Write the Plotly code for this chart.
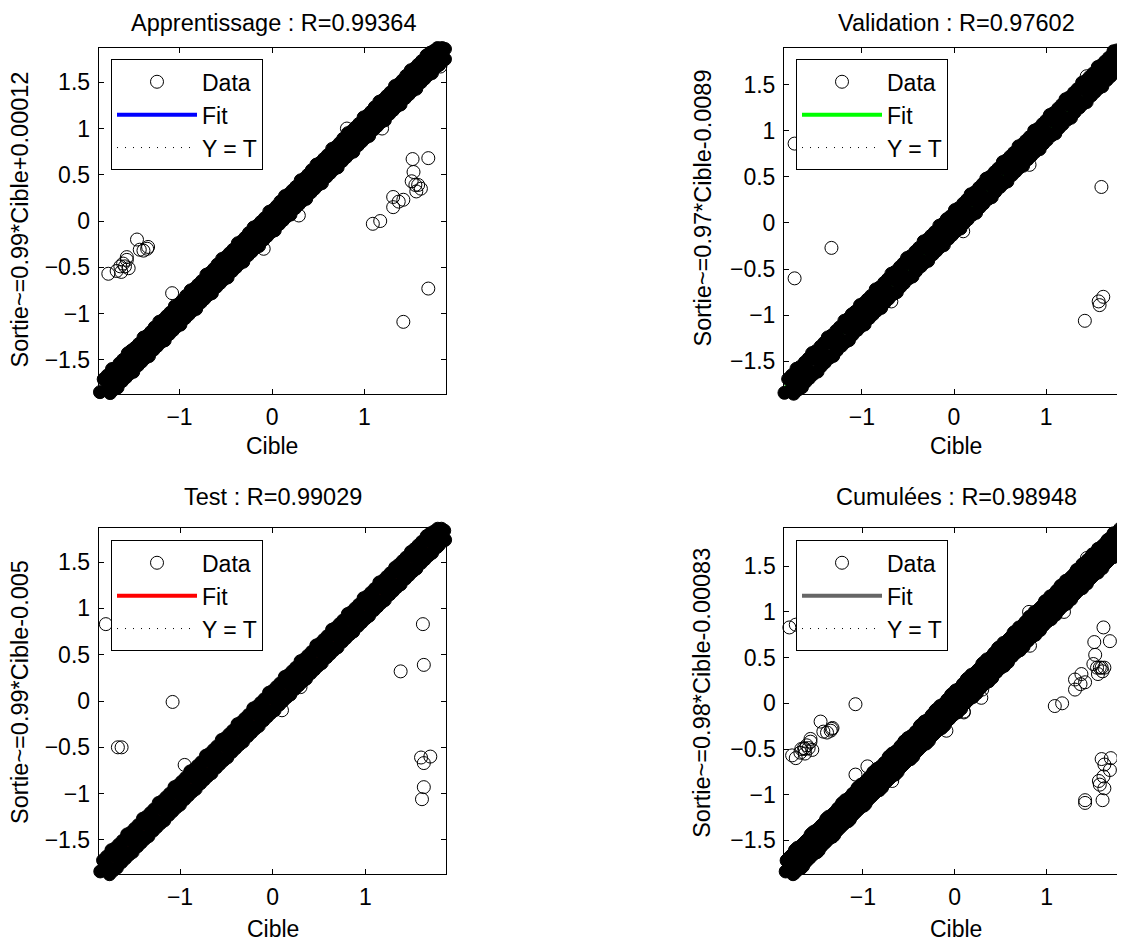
import plotly.graph_objects as go

# ---------------- data ----------------
# Apprentissage : dense diagonal band (lanes of overlapping circles) + scattered points
train_mid_t = [-1.86, -1.77, -1.69, -1.60, -1.52, -1.43, -1.35, -1.26, -1.18, -1.09, -1.01, -0.92, -0.84, -0.75, -0.67, -0.58, -0.50, -0.41, -0.33, -0.24, -0.16, -0.07, 0.01, 0.10, 0.18, 0.27, 0.35, 0.44, 0.52, 0.61, 0.69, 0.78, 0.86, 0.95, 1.03, 1.12, 1.20, 1.29, 1.37, 1.46, 1.54, 1.63, 1.71, 1.80, 1.87]
train_mid_y = [-1.85, -1.78, -1.68, -1.61, -1.51, -1.44, -1.34, -1.27, -1.17, -1.10, -1.00, -0.93, -0.83, -0.76, -0.66, -0.59, -0.49, -0.42, -0.32, -0.25, -0.15, -0.08, 0.02, 0.09, 0.19, 0.26, 0.36, 0.43, 0.53, 0.60, 0.70, 0.77, 0.87, 0.94, 1.04, 1.11, 1.21, 1.28, 1.38, 1.45, 1.55, 1.62, 1.72, 1.79, 1.86]
train_hi_t = [-1.82, -1.73, -1.65, -1.56, -1.48, -1.39, -1.31, -1.22, -1.14, -1.05, -0.97, -0.88, -0.80, -0.71, -0.63, -0.54, -0.46, -0.37, -0.29, -0.20, -0.12, -0.03, 0.05, 0.14, 0.22, 0.31, 0.39, 0.48, 0.56, 0.65, 0.73, 0.82, 0.90, 0.99, 1.07, 1.16, 1.24, 1.33, 1.41, 1.50, 1.58, 1.67, 1.75, 1.84]
train_hi_y = [-1.71, -1.60, -1.54, -1.43, -1.37, -1.26, -1.20, -1.09, -1.03, -0.92, -0.86, -0.75, -0.69, -0.58, -0.52, -0.41, -0.35, -0.24, -0.18, -0.07, -0.01, 0.10, 0.16, 0.27, 0.33, 0.44, 0.50, 0.61, 0.67, 0.78, 0.84, 0.95, 1.01, 1.12, 1.18, 1.29, 1.35, 1.46, 1.52, 1.63, 1.69, 1.79, 1.84, 1.87]
train_hi2_t = [-1.78, -1.69, -1.61, -1.52, -1.44, -1.35, -1.27, -1.18, -1.10, -1.01, -0.93, -0.84, -0.76, -0.67, -0.59, -0.50, -0.42, -0.33, -0.25, -0.16, -0.08, 0.01, 0.09, 0.18, 0.26, 0.35, 0.43, 0.52, 0.60, 0.69, 0.77, 0.86, 0.94, 1.03, 1.11, 1.20, 1.28, 1.37, 1.45, 1.54, 1.62, 1.71, 1.79]
train_hi2_y = [-1.67, -1.59, -1.50, -1.40, -1.33, -1.24, -1.15, -1.07, -0.99, -0.90, -0.81, -0.73, -0.65, -0.56, -0.47, -0.39, -0.31, -0.22, -0.13, -0.05, 0.03, 0.12, 0.21, 0.29, 0.37, 0.46, 0.55, 0.63, 0.71, 0.80, 0.89, 0.97, 1.05, 1.14, 1.23, 1.31, 1.39, 1.48, 1.57, 1.65, 1.73, 1.82, 1.87]
train_lo_t = [-1.75, -1.67, -1.58, -1.50, -1.41, -1.33, -1.24, -1.16, -1.07, -0.99, -0.90, -0.82, -0.73, -0.65, -0.56, -0.48, -0.39, -0.31, -0.22, -0.14, -0.05, 0.03, 0.12, 0.20, 0.29, 0.37, 0.46, 0.54, 0.63, 0.71, 0.80, 0.88, 0.97, 1.05, 1.14, 1.22, 1.31, 1.39, 1.48, 1.56, 1.65, 1.73, 1.81, 1.87]
train_lo_y = [-1.86, -1.80, -1.69, -1.63, -1.52, -1.46, -1.35, -1.29, -1.18, -1.12, -1.01, -0.95, -0.84, -0.78, -0.67, -0.61, -0.50, -0.44, -0.33, -0.27, -0.16, -0.10, 0.01, 0.07, 0.18, 0.24, 0.35, 0.41, 0.52, 0.58, 0.69, 0.75, 0.86, 0.92, 1.03, 1.09, 1.20, 1.26, 1.37, 1.43, 1.54, 1.60, 1.69, 1.75]
train_lo2_t = [-1.71, -1.62, -1.54, -1.45, -1.37, -1.28, -1.20, -1.11, -1.03, -0.94, -0.86, -0.77, -0.69, -0.60, -0.52, -0.43, -0.35, -0.26, -0.18, -0.09, -0.01, 0.08, 0.16, 0.25, 0.33, 0.42, 0.50, 0.59, 0.67, 0.76, 0.84, 0.93, 1.01, 1.10, 1.18, 1.27, 1.35, 1.44, 1.52, 1.61, 1.69, 1.78, 1.85]
train_lo2_y = [-1.82, -1.73, -1.65, -1.56, -1.48, -1.39, -1.31, -1.22, -1.14, -1.05, -0.97, -0.88, -0.80, -0.71, -0.63, -0.54, -0.46, -0.37, -0.29, -0.20, -0.12, -0.03, 0.05, 0.14, 0.22, 0.31, 0.39, 0.48, 0.56, 0.65, 0.73, 0.82, 0.90, 0.99, 1.07, 1.16, 1.24, 1.33, 1.41, 1.50, 1.58, 1.67, 1.74]
train_out_t = [-1.57, -1.77, -1.68, -1.64, -1.61, -1.57, -1.63, -1.59, -1.55, -1.57, -1.46, -1.43, -1.39, -1.35, -1.34,
               -1.08, -0.09, 0.29, 0.81, 1.19, 1.82, 1.09, 1.17, 1.31, 1.31, 1.37, 1.42, 1.52, 1.53, 1.51, 1.55,
               1.56, 1.61, 1.58, 1.69, 1.69, 1.42]
train_out_y = [0.75, -0.57, -0.54, -0.49, -0.46, -0.42, -0.55, -0.49, -0.51, -0.39, -0.20, -0.31, -0.32, -0.30, -0.28,
               -0.78, -0.30, 0.06, 1.00, 1.00, 1.67, -0.03, 0.00, 0.26, 0.15, 0.21, 0.23, 0.67, 0.53, 0.43, 0.39,
               0.32, 0.35, 0.39, 0.68, -0.73, -1.09]

# Validation
val_mid_t = [-1.84, -1.75, -1.67, -1.58, -1.49, -1.41, -1.32, -1.24, -1.15, -1.06, -0.98, -0.89, -0.81, -0.72, -0.63, -0.55, -0.46, -0.38, -0.29, -0.20, -0.12, -0.03, 0.05, 0.14, 0.23, 0.31, 0.40, 0.48, 0.57, 0.66, 0.74, 0.83, 0.91, 1.00, 1.09, 1.17, 1.26, 1.34, 1.43, 1.52, 1.60, 1.69, 1.77, 1.85]
val_mid_y = [-1.84, -1.76, -1.66, -1.59, -1.48, -1.42, -1.31, -1.25, -1.14, -1.07, -0.97, -0.90, -0.80, -0.73, -0.62, -0.56, -0.45, -0.39, -0.28, -0.21, -0.11, -0.04, 0.06, 0.13, 0.24, 0.30, 0.41, 0.47, 0.58, 0.65, 0.75, 0.82, 0.92, 0.99, 1.10, 1.16, 1.27, 1.33, 1.44, 1.51, 1.61, 1.68, 1.78, 1.85]
val_hi_t = [-1.80, -1.71, -1.62, -1.54, -1.45, -1.37, -1.28, -1.19, -1.11, -1.02, -0.94, -0.85, -0.76, -0.68, -0.59, -0.51, -0.42, -0.33, -0.25, -0.16, -0.08, 0.01, 0.10, 0.18, 0.27, 0.35, 0.44, 0.53, 0.61, 0.70, 0.78, 0.87, 0.96, 1.04, 1.13, 1.21, 1.30, 1.39, 1.47, 1.56, 1.64, 1.73, 1.80]
val_hi_y = [-1.69, -1.58, -1.51, -1.41, -1.34, -1.24, -1.17, -1.06, -0.99, -0.89, -0.83, -0.72, -0.65, -0.55, -0.48, -0.38, -0.31, -0.20, -0.14, -0.03, 0.04, 0.14, 0.21, 0.31, 0.38, 0.48, 0.55, 0.66, 0.72, 0.83, 0.89, 1.00, 1.07, 1.17, 1.24, 1.34, 1.41, 1.52, 1.58, 1.69, 1.75, 1.86, 1.90]
val_hi2_t = [-1.76, -1.67, -1.58, -1.50, -1.41, -1.33, -1.24, -1.15, -1.07, -0.98, -0.90, -0.81, -0.72, -0.64, -0.55, -0.47, -0.38, -0.29, -0.21, -0.12, -0.04, 0.05, 0.14, 0.22, 0.31, 0.39, 0.48, 0.57, 0.65, 0.74, 0.82, 0.91, 1.00, 1.08, 1.17, 1.25, 1.34, 1.43, 1.51, 1.60, 1.68, 1.77, 1.84]
val_hi2_y = [-1.65, -1.56, -1.47, -1.39, -1.30, -1.22, -1.13, -1.04, -0.96, -0.87, -0.79, -0.70, -0.61, -0.53, -0.44, -0.36, -0.27, -0.18, -0.10, -0.01, 0.07, 0.16, 0.25, 0.33, 0.42, 0.50, 0.59, 0.68, 0.76, 0.85, 0.93, 1.02, 1.11, 1.19, 1.28, 1.36, 1.45, 1.54, 1.62, 1.71, 1.79, 1.87, 1.90]
val_lo_t = [-1.74, -1.65, -1.57, -1.48, -1.40, -1.31, -1.22, -1.14, -1.05, -0.97, -0.88, -0.79, -0.71, -0.62, -0.54, -0.45, -0.36, -0.28, -0.19, -0.11, -0.02, 0.07, 0.15, 0.24, 0.32, 0.41, 0.50, 0.58, 0.67, 0.75, 0.84, 0.93, 1.01, 1.10, 1.18, 1.27, 1.36, 1.44, 1.53, 1.61, 1.70, 1.78, 1.86]
val_lo_y = [-1.85, -1.78, -1.68, -1.61, -1.51, -1.44, -1.33, -1.27, -1.16, -1.10, -0.99, -0.92, -0.82, -0.75, -0.65, -0.58, -0.47, -0.41, -0.30, -0.24, -0.13, -0.06, 0.04, 0.11, 0.21, 0.28, 0.39, 0.45, 0.56, 0.62, 0.73, 0.80, 0.90, 0.97, 1.07, 1.14, 1.25, 1.31, 1.42, 1.48, 1.59, 1.65, 1.75]
val_lo2_t = [-1.70, -1.61, -1.53, -1.44, -1.35, -1.27, -1.18, -1.10, -1.01, -0.92, -0.84, -0.75, -0.66, -0.58, -0.49, -0.41, -0.32, -0.23, -0.15, -0.06, 0.02, 0.11, 0.20, 0.28, 0.37, 0.45, 0.54, 0.63, 0.71, 0.80, 0.88, 0.97, 1.06, 1.14, 1.23, 1.31, 1.40, 1.49, 1.57, 1.66, 1.74, 1.82, 1.88]
val_lo2_y = [-1.81, -1.72, -1.64, -1.55, -1.46, -1.38, -1.29, -1.21, -1.12, -1.03, -0.95, -0.86, -0.77, -0.69, -0.60, -0.52, -0.43, -0.34, -0.26, -0.17, -0.09, 0.00, 0.09, 0.17, 0.26, 0.34, 0.43, 0.52, 0.60, 0.69, 0.77, 0.86, 0.95, 1.03, 1.12, 1.20, 1.29, 1.38, 1.46, 1.55, 1.63, 1.71, 1.77]
val_out_t = [-1.73, -1.58, -1.56, -1.55, -1.33, -1.73, -0.68, 0.10, 0.82, 1.44, 1.80, 1.60, 1.42, 1.57, 1.62, 1.58]
val_out_y = [0.86, 0.74, 0.72, 0.75, -0.27, -0.60, -0.85, -0.09, 0.63, 1.59, 1.91, 0.39, -1.06, -0.85, -0.80, -0.89]

# Test
test_mid_t = [-1.86, -1.78, -1.69, -1.61, -1.52, -1.44, -1.35, -1.27, -1.18, -1.10, -1.01, -0.93, -0.84, -0.76, -0.67, -0.59, -0.50, -0.42, -0.33, -0.25, -0.16, -0.08, 0.01, 0.09, 0.18, 0.26, 0.35, 0.43, 0.52, 0.60, 0.69, 0.77, 0.86, 0.94, 1.03, 1.11, 1.20, 1.28, 1.37, 1.45, 1.54, 1.62, 1.71, 1.79, 1.85]
test_mid_y = [-1.84, -1.79, -1.68, -1.62, -1.51, -1.45, -1.34, -1.28, -1.17, -1.11, -1.00, -0.94, -0.83, -0.77, -0.66, -0.60, -0.49, -0.43, -0.32, -0.26, -0.15, -0.09, 0.02, 0.08, 0.19, 0.25, 0.36, 0.42, 0.53, 0.59, 0.70, 0.76, 0.87, 0.93, 1.04, 1.10, 1.21, 1.27, 1.38, 1.44, 1.55, 1.61, 1.72, 1.78, 1.84]
test_hi_t = [-1.83, -1.74, -1.66, -1.57, -1.49, -1.40, -1.32, -1.23, -1.15, -1.06, -0.98, -0.89, -0.81, -0.72, -0.64, -0.55, -0.47, -0.38, -0.30, -0.21, -0.13, -0.04, 0.04, 0.13, 0.21, 0.30, 0.38, 0.47, 0.55, 0.64, 0.72, 0.81, 0.89, 0.98, 1.06, 1.15, 1.23, 1.32, 1.40, 1.49, 1.57, 1.66, 1.74, 1.82]
test_hi_y = [-1.72, -1.61, -1.55, -1.44, -1.38, -1.27, -1.21, -1.10, -1.04, -0.93, -0.87, -0.76, -0.70, -0.59, -0.53, -0.42, -0.36, -0.25, -0.19, -0.08, -0.02, 0.09, 0.15, 0.26, 0.32, 0.43, 0.49, 0.60, 0.66, 0.77, 0.83, 0.94, 1.00, 1.11, 1.17, 1.28, 1.34, 1.44, 1.51, 1.61, 1.68, 1.78, 1.83, 1.86]
test_hi2_t = [-1.79, -1.70, -1.62, -1.53, -1.45, -1.36, -1.28, -1.19, -1.11, -1.02, -0.94, -0.85, -0.77, -0.68, -0.60, -0.51, -0.43, -0.34, -0.26, -0.17, -0.09, 0.00, 0.08, 0.17, 0.25, 0.34, 0.42, 0.51, 0.59, 0.68, 0.76, 0.85, 0.93, 1.02, 1.10, 1.19, 1.27, 1.36, 1.44, 1.53, 1.61, 1.70, 1.78]
test_hi2_y = [-1.68, -1.59, -1.51, -1.42, -1.34, -1.25, -1.17, -1.08, -1.00, -0.91, -0.83, -0.74, -0.66, -0.57, -0.49, -0.40, -0.32, -0.23, -0.15, -0.06, 0.02, 0.11, 0.19, 0.28, 0.36, 0.45, 0.53, 0.62, 0.70, 0.79, 0.87, 0.96, 1.04, 1.13, 1.21, 1.30, 1.38, 1.47, 1.55, 1.64, 1.72, 1.81, 1.86]
test_lo_t = [-1.76, -1.68, -1.59, -1.51, -1.42, -1.34, -1.25, -1.17, -1.08, -1.00, -0.91, -0.83, -0.74, -0.66, -0.57, -0.49, -0.40, -0.32, -0.23, -0.15, -0.06, 0.02, 0.11, 0.19, 0.28, 0.36, 0.45, 0.53, 0.62, 0.70, 0.79, 0.87, 0.96, 1.04, 1.13, 1.21, 1.30, 1.38, 1.47, 1.55, 1.64, 1.72, 1.79, 1.86]
test_lo_y = [-1.87, -1.80, -1.70, -1.63, -1.53, -1.46, -1.36, -1.29, -1.19, -1.12, -1.02, -0.95, -0.85, -0.78, -0.68, -0.61, -0.51, -0.44, -0.34, -0.27, -0.17, -0.10, 0.00, 0.07, 0.17, 0.24, 0.34, 0.41, 0.51, 0.58, 0.68, 0.75, 0.85, 0.92, 1.02, 1.09, 1.19, 1.26, 1.36, 1.43, 1.53, 1.60, 1.68, 1.74]
test_lo2_t = [-1.72, -1.63, -1.55, -1.46, -1.38, -1.29, -1.21, -1.12, -1.04, -0.95, -0.87, -0.78, -0.70, -0.61, -0.53, -0.44, -0.36, -0.27, -0.19, -0.10, -0.02, 0.07, 0.15, 0.24, 0.32, 0.41, 0.49, 0.58, 0.66, 0.75, 0.83, 0.92, 1.00, 1.09, 1.17, 1.26, 1.34, 1.43, 1.51, 1.60, 1.68, 1.77, 1.84]
test_lo2_y = [-1.83, -1.74, -1.66, -1.57, -1.49, -1.40, -1.32, -1.23, -1.15, -1.06, -0.98, -0.89, -0.81, -0.72, -0.64, -0.55, -0.47, -0.38, -0.30, -0.21, -0.13, -0.04, 0.04, 0.13, 0.21, 0.30, 0.38, 0.47, 0.55, 0.64, 0.72, 0.81, 0.89, 0.98, 1.06, 1.15, 1.23, 1.32, 1.40, 1.49, 1.57, 1.66, 1.73]
test_out_t = [-1.80, -1.67, -1.63, -1.08, -0.95, 0.10, 0.30, 1.62, 1.63, 1.38, 1.60, 1.70, 1.63, 1.63, 1.61]
test_out_y = [0.83, -0.50, -0.50, -0.01, -0.69, -0.10, 0.15, 0.83, 0.39, 0.32, -0.61, -0.60, -0.67, -0.93, -1.06]

train_band_t = train_mid_t + train_hi_t + train_hi2_t + train_lo_t + train_lo2_t
train_band_y = train_mid_y + train_hi_y + train_hi2_y + train_lo_y + train_lo2_y
val_band_t = val_mid_t + val_hi_t + val_hi2_t + val_lo_t + val_lo2_t
val_band_y = val_mid_y + val_hi_y + val_hi2_y + val_lo_y + val_lo2_y
test_band_t = test_mid_t + test_hi_t + test_hi2_t + test_lo_t + test_lo2_t
test_band_y = test_mid_y + test_hi_y + test_hi2_y + test_lo_y + test_lo2_y

# Cumulées = all three sets together
all_band_t = train_band_t + val_band_t + test_band_t
all_band_y = train_band_y + val_band_y + test_band_y
all_out_t = train_out_t + val_out_t + test_out_t
all_out_y = train_out_y + val_out_y + test_out_y

titles = ["Apprentissage : R=0.99364", "Validation : R=0.97602", "Test : R=0.99029", "Cumulées : R=0.98948"]
ylabels = ["Sortie~=0.99*Cible+0.00012", "Sortie~=0.97*Cible-0.0089",
           "Sortie~=0.99*Cible-0.005", "Sortie~=0.98*Cible-0.00083"]
xlabel = "Cible"
fit_slope = [0.99, 0.97, 0.99, 0.98]
fit_offset = [0.00012, -0.0089, -0.005, -0.00083]
legend_names = ["Data", "Fit", "Y = T"]
x_tickvals = [-1, 0, 1]
y_tickvals = [-1.5, -1, -0.5, 0, 0.5, 1, 1.5]

datasets = [(train_band_t, train_band_y, train_out_t, train_out_y),
            (val_band_t, val_band_y, val_out_t, val_out_y),
            (test_band_t, test_band_y, test_out_t, test_out_y),
            (all_band_t, all_band_y, all_out_t, all_out_y)]

# ---------------- styling / layout ----------------
W, H = 1125, 940
OFF = 8  # page margin of the html body
FONT = "Liberation Sans, Arial, Helvetica, sans-serif"
FS = 23
FS_T = 23.5
fit_colors = ["#0000ff", "#00ff00", "#ff0000", "#666666"]
# plot areas in page pixels: left, right, top, bottom
boxes = [(98.7, 445.7, 47.7, 394.0), (784.0, 1131.0, 47.7, 394.0),
         (98.7, 445.7, 528.0, 874.3), (784.3, 1131.3, 528.0, 874.3)]
x_ranges = [(-1.874, 1.878), (-1.845, 1.921), (-1.877, 1.866), (-1.855, 1.923)]
y_ranges = [(-1.870, 1.874), (-1.853, 1.899), (-1.871, 1.868), (-1.871, 1.918)]
title_pos = [(273, 23), (957, 23), (272.5, 497), (956, 497)]
xlabel_pos = [(272, 445.5), (956, 445.5), (272.5, 929), (956, 929)]
ylabel_pos = [(19.5, 220), (702.5, 208), (19.5, 692.5), (702.5, 693.3)]
legend_pos = [(111, 59.3), (796, 59.3), (111, 540.3), (796, 540.3)]


def px(x):
    return (x - OFF) / W


def py(y):
    return 1 - (y - OFF) / H


fig = go.Figure()
layout = dict(width=W, height=H, margin=dict(l=0, r=0, t=0, b=0),
              paper_bgcolor="white", plot_bgcolor="white",
              font=dict(family=FONT, size=FS, color="black"), annotations=[])

for i, (bt, by, ot, oy) in enumerate(datasets):
    k = "" if i == 0 else str(i + 1)
    xa, ya = "x" + k, "y" + k
    leg = "legend" + k
    allt = bt + ot
    tmin, tmax = min(allt), max(allt)
    # Y = T
    fig.add_trace(go.Scatter(x=[tmin, tmax], y=[tmin, tmax], mode="lines",
                             line=dict(color="black", width=1, dash="1px,7px"),
                             name=legend_names[2], legend=leg, legendrank=3,
                             xaxis=xa, yaxis=ya))
    # Fit
    fig.add_trace(go.Scatter(x=[tmin, tmax],
                             y=[fit_slope[i] * tmin + fit_offset[i], fit_slope[i] * tmax + fit_offset[i]],
                             mode="lines", line=dict(color=fit_colors[i], width=4),
                             name=legend_names[1], legend=leg, legendrank=2,
                             xaxis=xa, yaxis=ya))
    # Data (dense band of overlapping circles)
    fig.add_trace(go.Scatter(x=bt, y=by, mode="markers", showlegend=False,
                             marker=dict(symbol="circle", size=13, color="black",
                                         line=dict(color="black", width=1)),
                             cliponaxis=False, xaxis=xa, yaxis=ya, legend=leg))
    # Data (scattered points)
    fig.add_trace(go.Scatter(x=ot, y=oy, mode="markers", name=legend_names[0],
                             marker=dict(symbol="circle-open", size=13, color="black",
                                         line=dict(color="black", width=1)),
                             cliponaxis=False, legend=leg, legendrank=1,
                             xaxis=xa, yaxis=ya))

    l, r, t, b = boxes[i]
    layout["xaxis" + k] = dict(domain=[px(l), min(1.0, px(r))], range=list(x_ranges[i]),
                               anchor=ya, tickvals=x_tickvals, ticks="inside", ticklen=5,
                               tickcolor="black", showline=True, linecolor="black", linewidth=1,
                               mirror="ticks", showgrid=False, zeroline=False,
                               ticklabelstandoff=2, tickfont=dict(size=FS, color="black"))
    layout["yaxis" + k] = dict(domain=[py(b), py(t)], range=list(y_ranges[i]),
                               anchor=xa, tickvals=y_tickvals, ticks="inside", ticklen=5,
                               tickcolor="black", showline=True, linecolor="black", linewidth=1,
                               mirror="ticks", showgrid=False,
                               zeroline=False, ticklabelstandoff=3,
                               tickfont=dict(size=FS, color="black"))
    lx, ly = legend_pos[i]
    layout[leg] = dict(x=px(lx), y=py(ly), xanchor="left", yanchor="top",
                       bgcolor="white", bordercolor="black", borderwidth=1,
                       font=dict(size=FS, color="black"), itemwidth=80,
                       traceorder="normal", tracegroupgap=0)
    tx, ty = title_pos[i]
    layout["annotations"].append(dict(text=titles[i], x=px(tx), y=py(ty), xref="paper", yref="paper",
                                      xanchor="center", yanchor="middle", showarrow=False,
                                      font=dict(size=FS_T)))
    cx, cy = xlabel_pos[i]
    layout["annotations"].append(dict(text=xlabel, x=px(cx), y=py(cy), xref="paper", yref="paper",
                                      xanchor="center", yanchor="middle", showarrow=False,
                                      font=dict(size=FS)))
    vx, vy = ylabel_pos[i]
    layout["annotations"].append(dict(text=ylabels[i], x=px(vx), y=py(vy), xref="paper", yref="paper",
                                      xanchor="center", yanchor="middle", showarrow=False,
                                      textangle=-90, height=22, font=dict(size=FS_T)))

fig.update_layout(**layout)
fig.write_html("out.html")
